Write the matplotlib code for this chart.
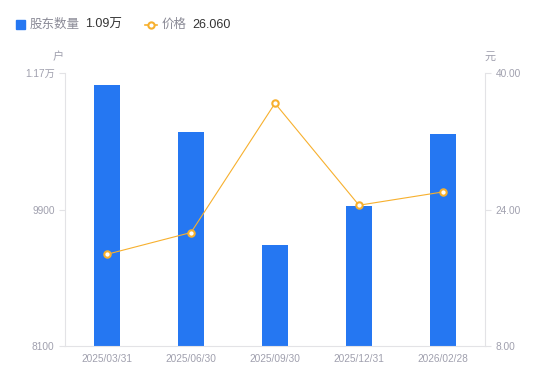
import matplotlib
matplotlib.use('Agg')
import matplotlib.pyplot as plt
from matplotlib.lines import Line2D

plt.rcParams['font.family'] = ['Liberation Sans', 'Noto Sans CJK SC', 'DejaVu Sans']

# data
dates = ['2025/03/31', '2025/06/30', '2025/09/30', '2025/12/31', '2026/02/28']
holders = [11540, 10920, 9430, 9950, 10900]
price = [18.75, 21.3, 36.45, 24.5, 26.06]
left_ticks = [8100, 9900, 11700]
left_labels = ['8100', '9900', '1.17万']
right_ticks = [8, 24, 40]
right_labels = ['8.00', '24.00', '40.00']

blue = '#2577f2'
orange = '#f7b02e'
tick_col = '#a0a0ae'
axis_col = '#e3e3e6'

fig = plt.figure(figsize=(5.5, 3.81), dpi=100)
ax = fig.add_axes([65/550, 1 - 346/381, 420/550, 273/381])
ax2 = ax.twinx()

x = range(len(dates))
ax.bar(x, holders, width=0.3, color=blue, zorder=2)
ax.set_xlim(-0.5, 4.5)
ax.set_ylim(8100, 11700)
ax.set_yticks(left_ticks)
ax.set_yticklabels(left_labels)
ax.set_xticks(list(x))
ax.set_xticklabels(dates)

ax2.plot(x, price, color=orange, lw=0.8, marker='o', ms=4.6, mfc='white',
         mec=orange, mew=1.5, zorder=3)
ax2.set_ylim(8, 40)
ax2.set_yticks(right_ticks)
ax2.set_yticklabels(right_labels)

for a in (ax, ax2):
    for s in a.spines.values():
        s.set_visible(False)
    a.tick_params(colors=tick_col, labelsize=7.3, length=4, width=0.8)
    a.tick_params(axis='y', color=axis_col)
ax.spines['left'].set_visible(True)
ax.spines['left'].set_color(axis_col)
ax.spines['bottom'].set_visible(True)
ax.spines['bottom'].set_color(axis_col)
ax2.spines['right'].set_visible(True)
ax2.spines['right'].set_color(axis_col)
ax.tick_params(axis='x', length=0, pad=6)
ax.set_zorder(1)
ax2.set_zorder(2)
ax.patch.set_visible(False)

# unit labels
fig.text(58/550, 1 - 57/381, '户', color=tick_col, fontsize=8, ha='center', va='center')
fig.text(490/550, 1 - 57/381, '元', color=tick_col, fontsize=8, ha='center', va='center')

# legend row
ly = 1 - 25/381
fig.patches.append(plt.Rectangle((16/550, 1 - 29/381), 9/550, 9/381,
                                 transform=fig.transFigure, color=blue))
fig.text(30/550, ly, '股东数量', color='#8a8a96', fontsize=9, va='center')
fig.text(85/550, ly, '1.09万', color='#333333', fontsize=9, va='center')
fig.lines.append(Line2D([145/550, 157/550], [1 - 24.5/381, 1 - 24.5/381],
                        transform=fig.transFigure, color=orange, lw=1.2))
fig.lines.append(Line2D([151/550], [1 - 24.5/381], transform=fig.transFigure,
                        color=orange, marker='o', ms=4.5, mfc='white', mew=1.5, lw=0))
fig.text(162/550, ly, '价格', color='#8a8a96', fontsize=9, va='center')
fig.text(192/550, ly, '26.060', color='#333333', fontsize=9, va='center')

fig.savefig('out.png', dpi=100)
